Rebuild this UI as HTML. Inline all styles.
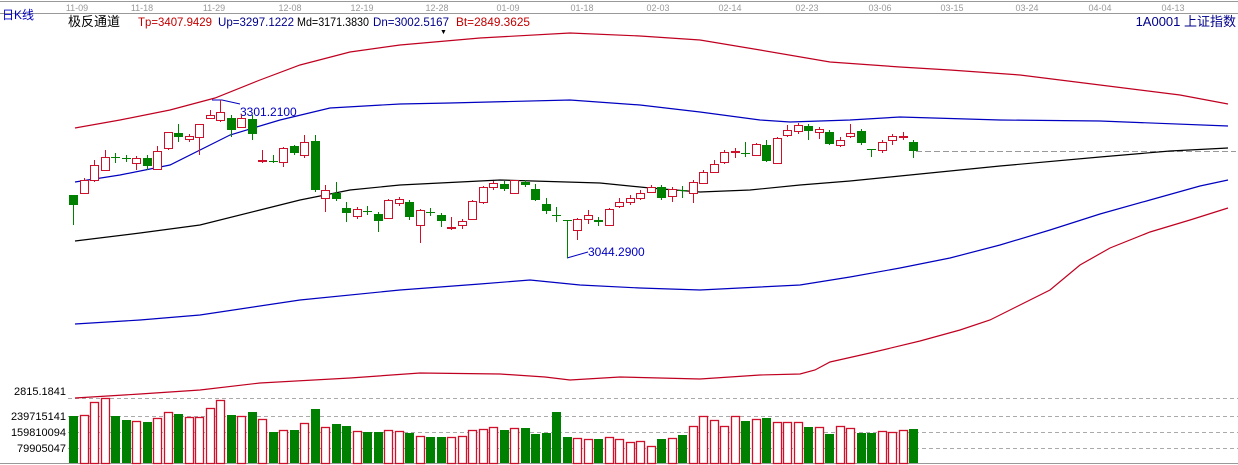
<!DOCTYPE html>
<html><head><meta charset="utf-8"><style>
body{margin:0;background:#fff;width:1238px;height:465px;overflow:hidden;font-family:"Liberation Sans","Noto Sans CJK SC",sans-serif}
svg{display:block}
</style></head><body>
<svg id="s" width="1238" height="465" xmlns="http://www.w3.org/2000/svg">
<rect width="1238" height="465" fill="#fff"/>
<line x1="0" y1="1.5" x2="1238" y2="1.5" stroke="#999"/>
<line x1="0" y1="13.5" x2="1238" y2="13.5" stroke="#999"/>
<line x1="0" y1="463.5" x2="1238" y2="463.5" stroke="#999"/>
<g font-size="9" fill="#999" text-anchor="middle">
<text x="77" y="11">11-09</text><text x="142" y="11">11-18</text><text x="214" y="11">11-29</text><text x="290" y="11">12-08</text><text x="362" y="11">12-19</text><text x="437" y="11">12-28</text><text x="508" y="11">01-09</text><text x="582" y="11">01-18</text><text x="658" y="11">02-03</text><text x="730" y="11">02-14</text><text x="807" y="11">02-23</text><text x="880" y="11">03-06</text><text x="952" y="11">03-15</text><text x="1027" y="11">03-24</text><text x="1100" y="11">04-04</text><text x="1173" y="11">04-13</text>
</g>
<text x="2" y="19" font-size="12" fill="#0000c0">日K线</text>
<text x="68" y="26" font-size="13" fill="#000">极反通道</text>
<g font-size="12">
<text x="138" y="26" fill="#c00000" textLength="74" lengthAdjust="spacingAndGlyphs">Tp=3407.9429</text>
<text x="218" y="26" fill="#00008b" textLength="76" lengthAdjust="spacingAndGlyphs">Up=3297.1222</text>
<text x="297" y="26" fill="#000" textLength="72" lengthAdjust="spacingAndGlyphs">Md=3171.3830</text>
<text x="373" y="26" fill="#00008b" textLength="76" lengthAdjust="spacingAndGlyphs">Dn=3002.5167</text>
<text x="456" y="26" fill="#c00000" textLength="74" lengthAdjust="spacingAndGlyphs">Bt=2849.3625</text>
</g>
<text x="440" y="34" font-size="7" fill="#000">▼</text>
<text x="1236" y="26" font-size="13" fill="#00008b" text-anchor="end">1A0001 上证指数</text>
<g stroke="#aaa" stroke-dasharray="4,3">
<line x1="68" y1="398.5" x2="1238" y2="398.5"/><line x1="68" y1="416.5" x2="1238" y2="416.5"/><line x1="68" y1="432.5" x2="1238" y2="432.5"/><line x1="68" y1="448.5" x2="1238" y2="448.5"/>
<line x1="916" y1="151.5" x2="1236" y2="151.5" stroke="#999" stroke-dasharray="6,3"/>
</g>
<g font-size="11" fill="#000" text-anchor="end">
<text x="66" y="395">2815.1841</text><text x="66" y="420">239715141</text><text x="66" y="436">159810094</text><text x="66" y="452">79905047</text>
</g>
<g fill="none" stroke-width="1.2">
<polyline stroke="#c00020" points="75,128 120,120 170,110 215,98 260,80 300,65 350,52 400,45 480,38 570,33 640,36 700,40 760,50 830,62 900,67 950,70 1020,75 1100,85 1180,95 1228,104"/>
<polyline stroke="#0000c0" points="75,182 120,175 170,165 230,135 280,120 330,108 400,104 450,103 570,100 640,105 700,112 760,120 790,122 850,120 900,117 1000,120 1100,121 1228,126"/>
<polyline stroke="#000" points="75,241 140,233 200,225 260,210 300,200 350,190 400,185 500,180 600,183 650,188 700,192 750,190 800,185 850,181 900,176 1000,166 1100,157 1170,151 1228,148"/>
<polyline stroke="#0000c0" points="75,324 140,320 200,315 300,300 400,290 480,284 530,280 580,285 640,288 700,290 760,287 800,285 850,277 900,268 950,258 1000,245 1050,230 1100,214 1150,200 1200,186 1228,180"/>
<polyline stroke="#c00020" points="75,398 140,394 200,390 260,383 350,378 420,373 500,374 545,377 570,380 620,377 700,379 760,375 800,374 815,370 830,362 870,353 920,341 960,330 990,320 1020,305 1050,290 1080,265 1110,248 1150,232 1190,220 1228,208"/>
</g>
<polyline points="212,100 222,100 240,104" fill="none" stroke="#0000c0"/>
<text x="240" y="116" font-size="12" fill="#0000c0">3301.2100</text>
<polyline points="567,258 588,252" fill="none" stroke="#0000c0"/>
<text x="588" y="256" font-size="12" fill="#0000c0">3044.2900</text>
<g id="c"></g>
</svg>
<script>
var C=[
[195,205,195,225,'g'],[180,193,178,194,'r'],[165,180,160,182,'r'],[157,170,150,171,'r'],[157,158,153,163,'g'],[158,159,155,162,'g'],[158,163,156,170,'r'],[158,166,155,170,'g'],[151,169,146,170,'r'],[132,148,132,150,'r'],
[133,137,124,142,'g'],[136,139,134,142,'r'],[124,137,124,155,'r'],[115,118,110,119,'r'],[112,120,100,122,'r'],[118,130,115,137,'g'],[118,127,114,128,'r'],[119,134,115,140,'g'],[160,161,150,163,'r'],[161,162,155,163,'g'],
[148,162,147,167,'r'],[146,153,145,155,'g'],[142,155,135,158,'r'],[141,190,135,192,'g'],[190,198,185,212,'r'],[193,199,182,201,'g'],[208,213,202,222,'g'],[209,216,207,219,'r'],[211,212,206,215,'g'],[214,221,212,232,'g'],
[200,218,199,219,'r'],[199,203,197,206,'r'],[202,217,200,220,'g'],[210,225,209,243,'r'],[212,213,208,216,'g'],[215,221,213,227,'g'],[227,228,217,230,'r'],[221,225,219,229,'r'],[201,219,200,220,'r'],[187,202,186,204,'r'],
[183,187,181,190,'r'],[184,189,181,191,'g'],[180,193,180,194,'r'],[182,185,180,187,'g'],[189,200,184,201,'g'],[204,211,198,214,'g'],[215,216,207,222,'g'],[220,221,220,258,'g'],[219,230,218,240,'r'],[215,219,210,224,'r'],
[220,222,217,226,'g'],[209,225,208,226,'r'],[202,206,198,208,'r'],[198,202,195,205,'r'],[193,198,190,200,'r'],[187,192,185,193,'r'],[187,198,185,200,'g'],[189,196,187,202,'r'],[190,191,186,198,'g'],[182,193,180,203,'r'],
[172,183,170,184,'r'],[164,172,160,173,'r'],[152,162,150,164,'r'],[151,152,148,158,'r'],[153,154,142,157,'g'],[144,155,143,156,'r'],[145,161,140,162,'g'],[138,163,137,164,'r'],[130,135,125,137,'r'],[125,131,123,134,'r'],
[126,131,124,140,'g'],[129,132,127,139,'r'],[132,144,130,145,'g'],[140,145,137,147,'r'],[133,136,124,138,'r'],[131,143,129,145,'g'],[149,150,149,157,'g'],[142,150,140,153,'r'],[136,140,134,145,'r'],[136,137,132,140,'r'],
[142,151,140,158,'g']];
var V=[416,415,402,398,416,420,421,422,418,412,414,417,417,408,400,415,416,412,419,432,430,430,423,409,427,424,426,431,432,432,430,431,433,436,437,437,437,436,430,429,427,430,428,428,434,433,412,437,438,439,439,437,439,442,441,446,439,438,435,426,416,420,426,416,421,419,418,422,422,422,427,427,434,426,428,433,433,431,432,430,429];
var s='',R='#d0102a',G='#008000';
for(var i=0;i<C.length;i++){
 var c=C[i],x=Math.round(73+i*10.5),col=c[4]=='g'?G:R;
 s+='<line x1="'+(x+.5)+'" y1="'+c[2]+'" x2="'+(x+.5)+'" y2="'+c[3]+'" stroke="'+col+'"/>';
 var h=Math.max(1,c[1]-c[0]);
 if(c[4]=='g') s+='<rect x="'+(x-4)+'" y="'+c[0]+'" width="9" height="'+h+'" fill="'+G+'"/>';
 else s+='<rect x="'+(x-3.5)+'" y="'+(c[0]+.5)+'" width="8" height="'+h+'" fill="#fff" stroke="'+R+'"/>';
 var v=V[i]; if(v===undefined)continue;
 if(c[4]=='g') s+='<rect x="'+(x-4)+'" y="'+v+'" width="9" height="'+(463-v)+'" fill="'+G+'"/>';
 else s+='<rect x="'+(x-3.5)+'" y="'+(v+.5)+'" width="8" height="'+(463-v)+'" fill="#fff" stroke="'+R+'" stroke-width="1.3"/>';
}
document.getElementById('c').innerHTML=s;
</script>
</body></html>
